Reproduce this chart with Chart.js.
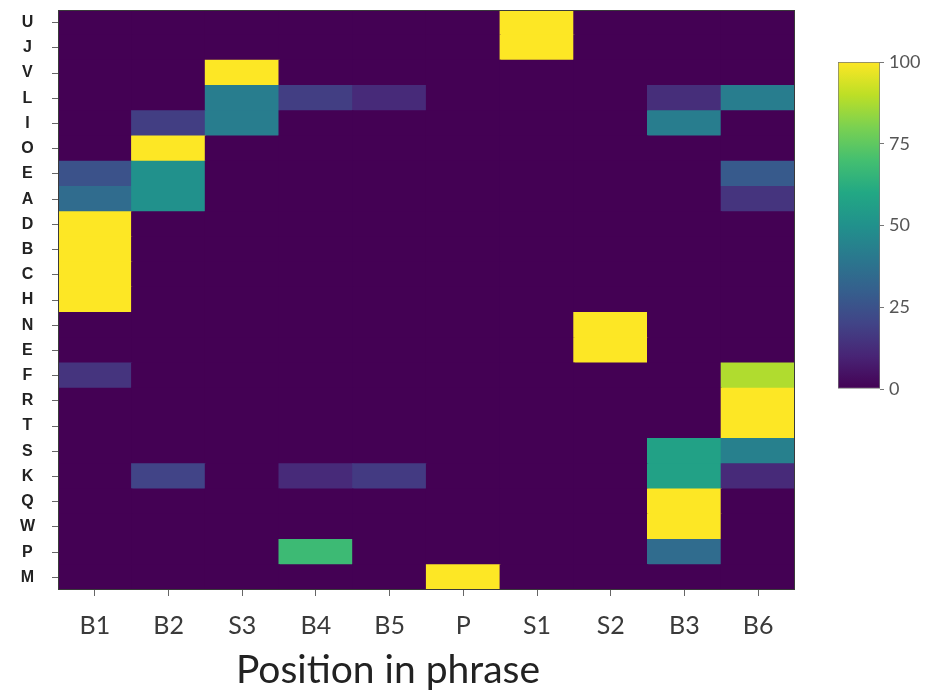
<!DOCTYPE html>
<html><head><meta charset="utf-8">
<script src="https://cdn.jsdelivr.net/npm/chart.js@4"></script>
<style>
html,body{margin:0;padding:0;background:#fff;}
#wrap{position:relative;width:936px;height:698px;overflow:hidden;}
#main{position:absolute;left:0;top:0;}
#cbar{position:absolute;left:830px;top:45px;}
</style></head><body>
<div id="wrap">
<canvas id="main" width="936" height="698"></canvas>
<canvas id="cbar" width="106" height="360"></canvas>
</div>
<script>
// Columns (x categories) and rows (y labels, top to bottom)
const positions = ['B1','B2','S3','B4','B5','P','S1','S2','B3','B6'];
const letters = ['U','J','V','L','I','O','E','A','D','B','C','H','N','E','F','R','T','S','K','Q','W','P','M'];

// Values per column, in row order U..M (top to bottom), 0-100
const B1v = [0,0,0,0,0,0,25,35,100,100,100,100,0,0,15,0,0,0,0,0,0,0,0];
const B2v = [0,0,0,0,18,100,50,50,0,0,0,0,0,0,0,0,0,0,20,0,0,0,0];
const S3v = [0,0,100,42,42,0,0,0,0,0,0,0,0,0,0,0,0,0,0,0,0,0,0];
const B4v = [0,0,0,18,0,0,0,0,0,0,0,0,0,0,0,0,0,0,12,0,0,68,0];
const B5v = [0,0,0,12,0,0,0,0,0,0,0,0,0,0,0,0,0,0,17,0,0,0,0];
const Pv  = [0,0,0,0,0,0,0,0,0,0,0,0,0,0,0,0,0,0,0,0,0,0,100];
const S1v = [100,100,0,0,0,0,0,0,0,0,0,0,0,0,0,0,0,0,0,0,0,0,0];
const S2v = [0,0,0,0,0,0,0,0,0,0,0,0,100,100,0,0,0,0,0,0,0,0,0];
const B3v = [0,0,0,13,42,0,0,0,0,0,0,0,0,0,0,0,0,57,57,100,100,35,0];
const B6v = [0,0,0,42,0,0,28,15,0,0,0,0,0,0,88,100,100,43,12,0,0,0,0];
const columnValues = [B1v,B2v,S3v,B4v,B5v,Pv,S1v,S2v,B3v,B6v];

const colorbarTicks = [0,25,50,75,100];
const xTitle = 'Position in phrase';

// viridis colormap stops
const VIR = ['#440154','#482475','#414487','#355f8d','#2a788e','#21918c','#22a884','#44bf70','#7ad151','#bddf26','#fde725'];
function hex(c){return [parseInt(c.slice(1,3),16),parseInt(c.slice(3,5),16),parseInt(c.slice(5,7),16)];}
function viridis(t){
  t=Math.max(0,Math.min(1,t));
  const s=t*10; let i=Math.floor(s); if(i>=10)i=9; const f=s-i;
  const a=hex(VIR[i]), b=hex(VIR[i+1]);
  const m=a.map((v,k)=>Math.round(v+(b[k]-v)*f));
  return 'rgb('+m.join(',')+')';
}

const nRows = letters.length;
const datasets = [];
for (let r = nRows-1; r >= 0; r--) {
  datasets.push({
    label: letters[r],
    data: positions.map(()=>1),
    values: columnValues.map(col=>col[r]),
    backgroundColor: columnValues.map(col=>viridis(col[r]/100)),
    borderWidth: 0,
    inflateAmount: 0.6,
    categoryPercentage: 1,
    barPercentage: 1
  });
}

const areaPlugin = {
  id:'area',
  beforeDatasetsDraw(chart){
    const {ctx, chartArea:a} = chart;
    ctx.save(); ctx.fillStyle = viridis(0); ctx.fillRect(a.left,a.top,a.right-a.left,a.bottom-a.top); ctx.restore();
  },
  afterDatasetsDraw(chart){
    const {ctx, chartArea:a} = chart;
    ctx.save(); ctx.strokeStyle='#3a3a3a'; ctx.lineWidth=1;
    ctx.strokeRect(Math.round(a.left)+0.5, Math.round(a.top)+0.5, Math.round(a.right-a.left)-1, Math.round(a.bottom-a.top)-1);
    ctx.restore();
  },
  afterDraw(chart){
    const {ctx} = chart;
    ctx.save(); ctx.fillStyle='#222'; ctx.font='39px Lato'; ctx.textAlign='center'; ctx.textBaseline='alphabetic';
    ctx.fillText(xTitle, 388, 683); ctx.restore();
  }
};

new Chart(document.getElementById('main'), {
  type:'bar',
  data:{labels:positions, datasets},
  plugins:[areaPlugin],
  options:{
    responsive:false, animation:false,
    layout:{padding:{left:0, top:10, right:141, bottom:0}},
    plugins:{legend:{display:false}, tooltip:{callbacks:{label:(c)=>c.dataset.label+': '+c.dataset.values[c.dataIndex]}}},
    scales:{
      x:{
        stacked:true,
        grid:{offset:false, drawOnChartArea:false, tickLength:6, color:'#666'},
        border:{display:false},
        ticks:{font:{family:'Lato', size:25}, color:'#3a3a3a', padding:15, maxRotation:0, autoSkip:false},
        afterFit:(s)=>{s.height=108; s.paddingLeft=0; s.paddingRight=0;}
      },
      y:{
        stacked:true, min:0, max:nRows,
        afterBuildTicks:(s)=>{ s.ticks = letters.map((_,i)=>({value:i+0.5})); },
        grid:{drawOnChartArea:false, tickLength:6, color:'#666'},
        border:{display:false},
        ticks:{font:{family:'Liberation Sans', size:16, weight:'bold'}, color:'#222', padding:17, crossAlign:'center', autoSkip:false,
          callback:(v,i)=>letters[nRows-1-i]},
        afterFit:(s)=>{s.width=58; s.paddingTop=0; s.paddingBottom=0;}
      }
    }
  }
});

new Chart(document.getElementById('cbar'), {
  type:'bar',
  data:{labels:[''], datasets:[{
    data:[[colorbarTicks[0], colorbarTicks[colorbarTicks.length-1]]],
    backgroundColor:(ctx)=>{
      const ca = ctx.chart.chartArea; if(!ca) return VIR[0];
      const g = ctx.chart.ctx.createLinearGradient(0, ca.bottom, 0, ca.top);
      VIR.forEach((c,i)=>g.addColorStop(i/10,c));
      return g;
    },
    borderColor:'#777', borderWidth:1, borderSkipped:false,
    categoryPercentage:1, barPercentage:1
  }]},
  options:{
    responsive:false, animation:false,
    layout:{padding:{left:8, top:17, bottom:16, right:0}},
    plugins:{legend:{display:false}, tooltip:{enabled:false}},
    scales:{
      x:{display:false},
      y:{position:'right', min:colorbarTicks[0], max:colorbarTicks[colorbarTicks.length-1],
        afterBuildTicks:(s)=>{ s.ticks = colorbarTicks.map(v=>({value:v})); },
        grid:{drawOnChartArea:false, tickLength:4, color:'#777'},
        border:{display:false},
        ticks:{font:{family:'Lato', size:18}, color:'#555', padding:5},
        afterFit:(s)=>{s.width=56; s.paddingTop=0; s.paddingBottom=0;}
      }
    }
  }
});
</script>
</body></html>
